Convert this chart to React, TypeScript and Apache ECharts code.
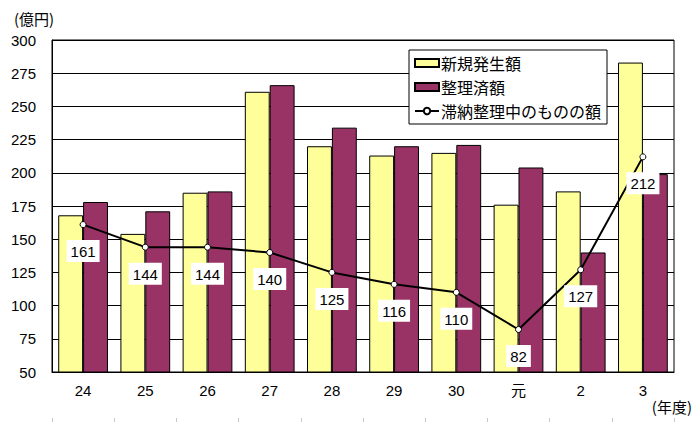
import React, { useEffect, useRef } from "react";
import * as echarts from "echarts";

const categories = ["24", "25", "26", "27", "28", "29", "30", "元", "2", "3"];
const newAmounts = [168, 154, 185, 261, 220, 213, 215, 176, 186, 283];
const settledAmounts = [178, 171, 186, 266, 234, 220, 221, 204, 140, 199];
const pendingAmounts = [161, 144, 144, 140, 125, 116, 110, 82, 127, 212];
const seriesNames = ["新規発生額", "整理済額", "滞納整理中のものの額"];
const yUnit = "(億円)";
const xUnit = "(年度)";

const FONT = "'Liberation Sans', 'Noto Sans CJK JP', sans-serif";
const CJK = "'Noto Sans CJK JP', 'Liberation Sans', sans-serif";

export default function App() {
  const ref = useRef<HTMLDivElement>(null);
  useEffect(() => {
    if (!ref.current) return;
    const chart = echarts.init(ref.current, undefined, { renderer: "svg" });
    chart.setOption({
      animation: false,
      backgroundColor: "#fff",
      textStyle: { fontFamily: FONT },
      title: {
        text: yUnit,
        left: 9,
        top: 6,
        textStyle: { fontSize: 15, fontWeight: "normal", color: "#000", fontFamily: CJK },
      },
      graphic: [
        {
          type: "text",
          right: 8,
          top: 399,
          style: { text: xUnit, font: `15px ${CJK}`, fill: "#000" },
        },
      ],
      grid: {
        left: 52,
        right: 26,
        top: 40,
        bottom: 50,
        show: true,
        borderColor: "#000",
        borderWidth: 1,
      },
      legend: {
        left: 409,
        top: 50,
        orient: "vertical",
        backgroundColor: "#fff",
        borderColor: "#000",
        borderWidth: 1,
        borderRadius: 0,
        padding: [5, 6, 5, 5],
        itemWidth: 24,
        itemHeight: 8,
        itemGap: 8,
        textStyle: { fontSize: 16, color: "#000", fontFamily: CJK, padding: [0, 0, 0, -3] },
        data: [
          { name: seriesNames[0], icon: "rect" },
          { name: seriesNames[1], icon: "rect" },
          { name: seriesNames[2] },
        ],
      },
      xAxis: [
        {
          type: "category",
          data: categories,
          axisLine: { show: true, lineStyle: { color: "#000", width: 1 } },
          axisTick: { show: false },
          axisLabel: { fontSize: 15, color: "#000", margin: 11, fontFamily: FONT },
        },
        {
          type: "category",
          data: categories,
          position: "bottom",
          offset: 46,
          axisLine: { show: false },
          axisTick: { show: true, length: 5, lineStyle: { color: "#c8c8c8" } },
          axisLabel: { show: false },
        },
      ],
      yAxis: {
        type: "value",
        min: 50,
        max: 300,
        interval: 25,
        axisLine: { show: true, lineStyle: { color: "#000" } },
        axisTick: { show: false },
        axisLabel: { fontSize: 15, color: "#000", margin: 16, fontFamily: FONT },
        splitLine: { show: true, lineStyle: { color: "#000", width: 1 } },
      },
      series: [
        {
          name: seriesNames[0],
          type: "bar",
          data: newAmounts,
          barGap: "0%",
          barCategoryGap: "20%",
          itemStyle: { color: "#FFFF99", borderColor: "#000", borderWidth: 1 },
        },
        {
          name: seriesNames[1],
          type: "bar",
          data: settledAmounts,
          itemStyle: { color: "#993366", borderColor: "#000", borderWidth: 1 },
        },
        {
          name: seriesNames[2],
          type: "line",
          data: pendingAmounts,
          symbol: "circle",
          symbolSize: 6,
          lineStyle: { color: "#000", width: 2 },
          itemStyle: { color: "#fff", borderColor: "#000", borderWidth: 1 },
          label: {
            show: true,
            position: "bottom",
            distance: 12,
            backgroundColor: "#fff",
            padding: [4, 4, 3, 4],
            color: "#000",
            fontSize: 15,
            fontFamily: FONT,
          },
          z: 5,
        },
      ],
    });
    return () => chart.dispose();
  }, []);
  return <div ref={ref} style={{ width: 700, height: 422, position: "absolute", left: 0, top: 0 }} />;
}
